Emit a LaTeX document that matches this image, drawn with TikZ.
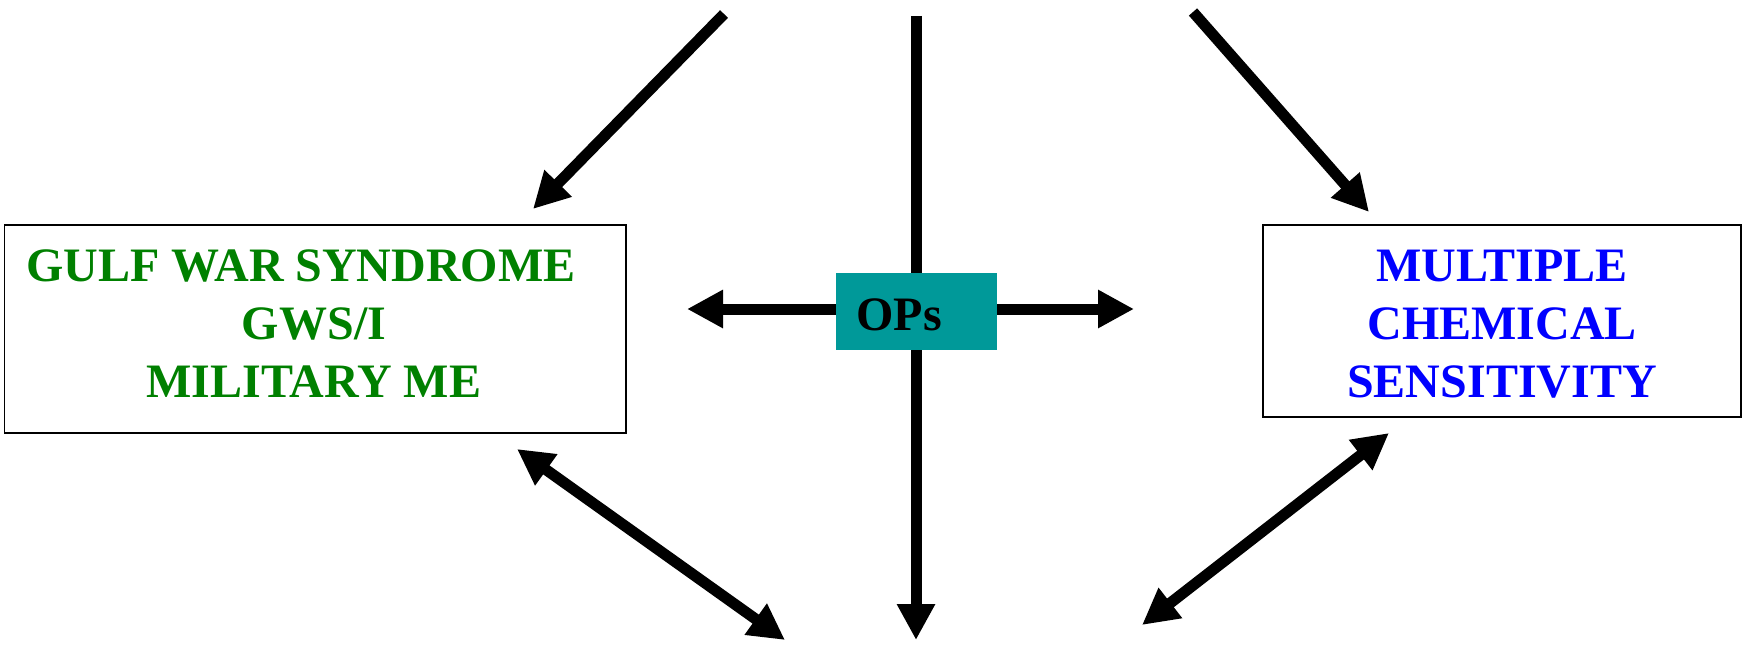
\documentclass[tikz,border=0pt]{standalone}
\usepackage{fontspec}
\setmainfont{Liberation Serif}
\usetikzlibrary{arrows.meta}
\definecolor{gwsgreen}{RGB}{0,128,0}
\definecolor{mcsblue}{RGB}{0,0,255}
\definecolor{opsteal}{RGB}{0,153,153}
\begin{document}
\begin{tikzpicture}[x=0.5pt,y=-0.5pt,
  thick arrow/.style={line width=5.5pt,-{Triangle[length=18pt,width=18pt]}},
  both arrow/.style={line width=5.5pt,{Triangle[length=18pt,width=18pt]}-{Triangle[length=18pt,width=18pt]}},
  frame/.style={draw=black,line width=0.75pt,inner sep=0pt},
  label text/.style={font=\fontsize{24}{29}\selectfont\bfseries,align=center,inner sep=0pt}]
\useasboundingbox (0,0) rectangle (1743,647);

% the two condition boxes
\node[frame,minimum width=310.8pt,minimum height=104pt] (gws) at (315.2,329) {};
\node[label text,text=gwsgreen] (gwstext) at (314,324)
  {GULF WAR SYNDROME\hspace*{13pt}\\GWS/I\\MILITARY ME};
\node[frame,minimum width=239pt,minimum height=96pt] (mcs) at (1502,321) {};
\node[label text,text=mcsblue] (mcstext) at (1502,324)
  {MULTIPLE\\CHEMICAL\\SENSITIVITY};

% free ends of the connectors
\coordinate (tlTail) at (724,14);
\coordinate (tlTip)  at (533,209);
\coordinate (trTail) at (1193,12);
\coordinate (trTip)  at (1369,212);
\coordinate (vTop)   at (916,16);
\coordinate (vTip)   at (916,640);
\coordinate (hL)     at (687,309);
\coordinate (hR)     at (1134,309);
\coordinate (blA)    at (517,449);
\coordinate (blB)    at (785,640);
\coordinate (brA)    at (1389,433);
\coordinate (brB)    at (1142,625);

% vertical axis passing behind the OPs box
\draw[thick arrow] (vTop) -- (vTip);

% central OPs box
\node[fill=opsteal,minimum width=80.5pt,minimum height=38.5pt,inner sep=0pt] (ops) at (916.5,311.5) {};
\node[anchor=base west,font=\fontsize{24}{29}\selectfont\bfseries,inner sep=0pt] (opstext) at (856,330) {OPs};

% arrows out of the OPs box
\draw[thick arrow] (ops.west |- hL) -- (hL);
\draw[thick arrow] (ops.east |- hR) -- (hR);

% arrows from the top into the boxes
\draw[thick arrow] (tlTail) -- (tlTip);
\draw[thick arrow] (trTail) -- (trTip);

% two-way arrows below the boxes
\draw[both arrow] (blA) -- (blB);
\draw[both arrow] (brA) -- (brB);
\end{tikzpicture}
\end{document}
